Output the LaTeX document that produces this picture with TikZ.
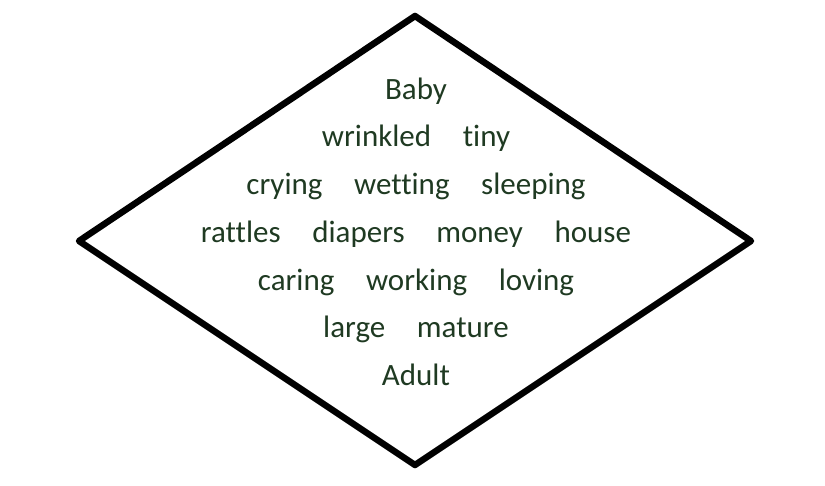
\documentclass[tikz,border=0pt]{standalone}
\usepackage{fontspec}
\setmainfont[Ligatures=NoCommon]{Carlito}
\definecolor{poemgreen}{HTML}{1F3A22}
\begin{document}
\begin{tikzpicture}[x=1pt,y=-1pt,
  poemline/.style={anchor=base, text=poemgreen, font=\fontsize{31}{32}\selectfont, inner sep=0pt},
  frame/.style={draw=black, line width=6.5pt, line join=round}]
\useasboundingbox (0,0) rectangle (825,485);
\coordinate (T) at (415,16);
\coordinate (L) at (79,241);
\coordinate (B) at (415,465);
\coordinate (R) at (751,241);
\draw[frame] (T) -- (R) -- (B) -- (L) -- cycle;
\def\gap{\hspace{1.02em}}
\node[poemline] (l1) at (416,99) {Baby};
\node[poemline] (l2) at (416,146.5) {wrinkled\gap tiny};
\node[poemline] (l3) at (416,194) {crying\gap wetting\gap sleeping};
\node[poemline] (l4) at (416,242) {rattles\gap diapers\gap money\gap house};
\node[poemline] (l5) at (416,290) {caring\gap working\gap loving};
\node[poemline] (l6) at (416,337.5) {large\gap mature};
\node[poemline] (l7) at (416,385) {Adult};
\end{tikzpicture}
\end{document}
